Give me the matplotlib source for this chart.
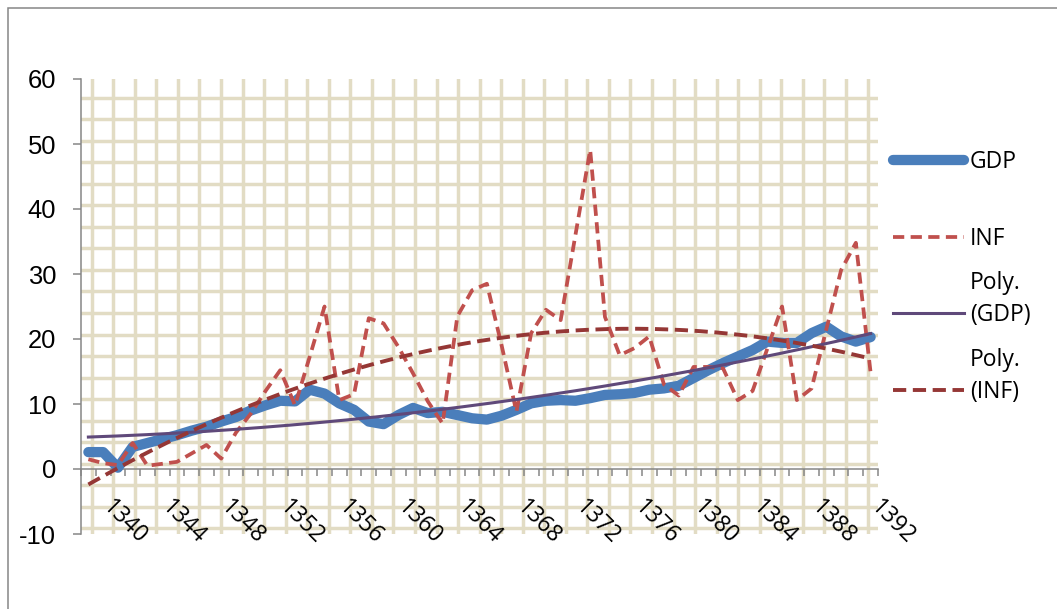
import numpy as np
import matplotlib
matplotlib.use("Agg")
import matplotlib.pyplot as plt
from matplotlib.lines import Line2D
from matplotlib.patches import Rectangle

# dados (1338-1391)
years = list(range(1338, 1392))
gdp = [2.6, 2.6, 0.2, 3.4, 4.0, 4.6, 5.2, 5.9, 6.5, 7.3,
       8.0, 9.0, 9.8, 10.5, 10.4, 12.2, 11.6, 10.1, 9.1, 7.3,
       6.9, 8.3, 9.4, 8.6, 8.8, 8.3, 7.8, 7.6, 8.2, 9.1,
       10.1, 10.5, 10.6, 10.5, 10.9, 11.4, 11.5, 11.7, 12.2, 12.4,
       12.8, 14.0, 15.2, 16.3, 17.3, 18.3, 19.6, 19.4, 19.4, 20.9,
       21.9, 20.4, 19.6, 20.3]
inf = [1.5, 0.9, 0.6, 4.0, 0.5, 0.8, 1.1, 2.4, 3.7, 1.6,
       5.6, 8.5, 12.0, 15.2, 9.8, 17.3, 25.0, 10.6, 11.5, 23.2,
       22.4, 18.8, 14.7, 10.4, 7.0, 23.5, 27.5, 28.5, 19.0, 8.8,
       20.9, 24.5, 22.9, 36.0, 49.1, 23.4, 17.5, 18.6, 20.4, 13.0,
       11.3, 15.7, 15.7, 15.5, 10.6, 12.0, 18.5, 25.0, 10.6, 12.4,
       21.5, 30.6, 34.8, 14.8]
label_years = list(range(1340, 1393, 4))
yticks = [-10, 0, 10, 20, 30, 40, 50, 60]
legend_labels = ["GDP", "INF", "Poly.\n(GDP)", "Poly.\n(INF)"]

W, H = 1057, 609
AZUL = "#4A7EBB"; VERM = "#C0504D"; ROXO = "#5F497A"; VESC = "#953735"
CINZA = "#868686"; BEGE = "#E2DCC4"

fig = plt.figure(figsize=(W / 100, H / 100), dpi=100)
fig.patches.append(Rectangle((8 / W, -0.01), 1.02, 1 - 8 / H + 0.01, transform=fig.transFigure,
                             fill=False, edgecolor=CINZA, lw=1.1))
L, R, T, B = 81, 878, 79, 534
ax = fig.add_axes([L / W, 1 - B / H, (R - L) / W, (B - T) / H])
pw, ph = R - L, B - T

# fundo quadriculado (textura da área de plotagem)
for p in np.arange(10.7, pw, 21.55):
    ax.plot([p / pw] * 2, [0, 1], transform=ax.transAxes, color=BEGE, lw=2.5, zorder=0)
for p in np.arange(18.5, ph, 21.55):
    ax.plot([0, 1], [1 - p / ph] * 2, transform=ax.transAxes, color=BEGE, lw=2.5, zorder=0)

x = np.arange(len(years))
ax.plot(x, gdp, color=AZUL, lw=7.4, solid_joinstyle="round", solid_capstyle="round", zorder=3)
ax.plot(x, inf, color=VERM, lw=2.7, ls=(0, (3.0, 1.7)), zorder=4)
xf = np.linspace(0, len(years) - 1, 300)
pg = np.polyval(np.polyfit(x, gdp, 2), xf)
pi = np.polyval(np.polyfit(x, inf, 2), xf)
ax.plot(xf, pg, color=ROXO, lw=2.2, zorder=5)
ax.plot(xf, pi, color=VESC, lw=2.8, ls=(0, (3.4, 1.7)), zorder=5)

ax.set_xlim(-0.5, len(years) - 0.5)
ax.set_ylim(-10, 60)
for s in ["top", "right"]:
    ax.spines[s].set_visible(False)
ax.spines["left"].set_color(CINZA); ax.spines["left"].set_linewidth(1.1)
ax.spines["bottom"].set_position(("data", 0))
ax.spines["bottom"].set_color(CINZA); ax.spines["bottom"].set_linewidth(1.1)
ax.set_xticks(np.arange(-0.5, len(years), 1))
ax.set_xticklabels([])
ax.tick_params(axis="x", direction="out", length=5.2, width=1.1, color=CINZA)
ax.set_yticks(yticks)
ax.set_yticklabels([str(v) for v in yticks], fontsize=18.4, family="Liberation Sans")
ax.tick_params(axis="y", direction="out", length=5.8, width=1.1, color=CINZA, pad=12)

for yr in label_years:
    ax.text(yr - years[0] - 0.2, 0.085, str(yr), transform=ax.get_xaxis_transform(),
            rotation=-45, rotation_mode="anchor", ha="left", va="top",
            fontsize=16.5, family="Open Sans", clip_on=False)

# legenda manual
estilos = [dict(color=AZUL, lw=7.4, solid_capstyle="round"),
           dict(color=VERM, lw=2.7, ls=(0, (3.0, 1.7))),
           dict(color=ROXO, lw=2.2),
           dict(color=VESC, lw=2.8, ls=(0, (3.4, 1.7)))]
ys = [160, 237, 313, 390]
for lab, st, yy in zip(legend_labels, estilos, ys):
    fig.add_artist(Line2D([893 / W, 964 / W], [1 - yy / H] * 2, transform=fig.transFigure, **st))
    fig.text(970 / W, 1 - (yy + 8) / H, lab, ha="left", va="baseline", fontsize=16.5,
             family="Open Sans", linespacing=1.45)

fig.savefig("out.png", dpi=100)
